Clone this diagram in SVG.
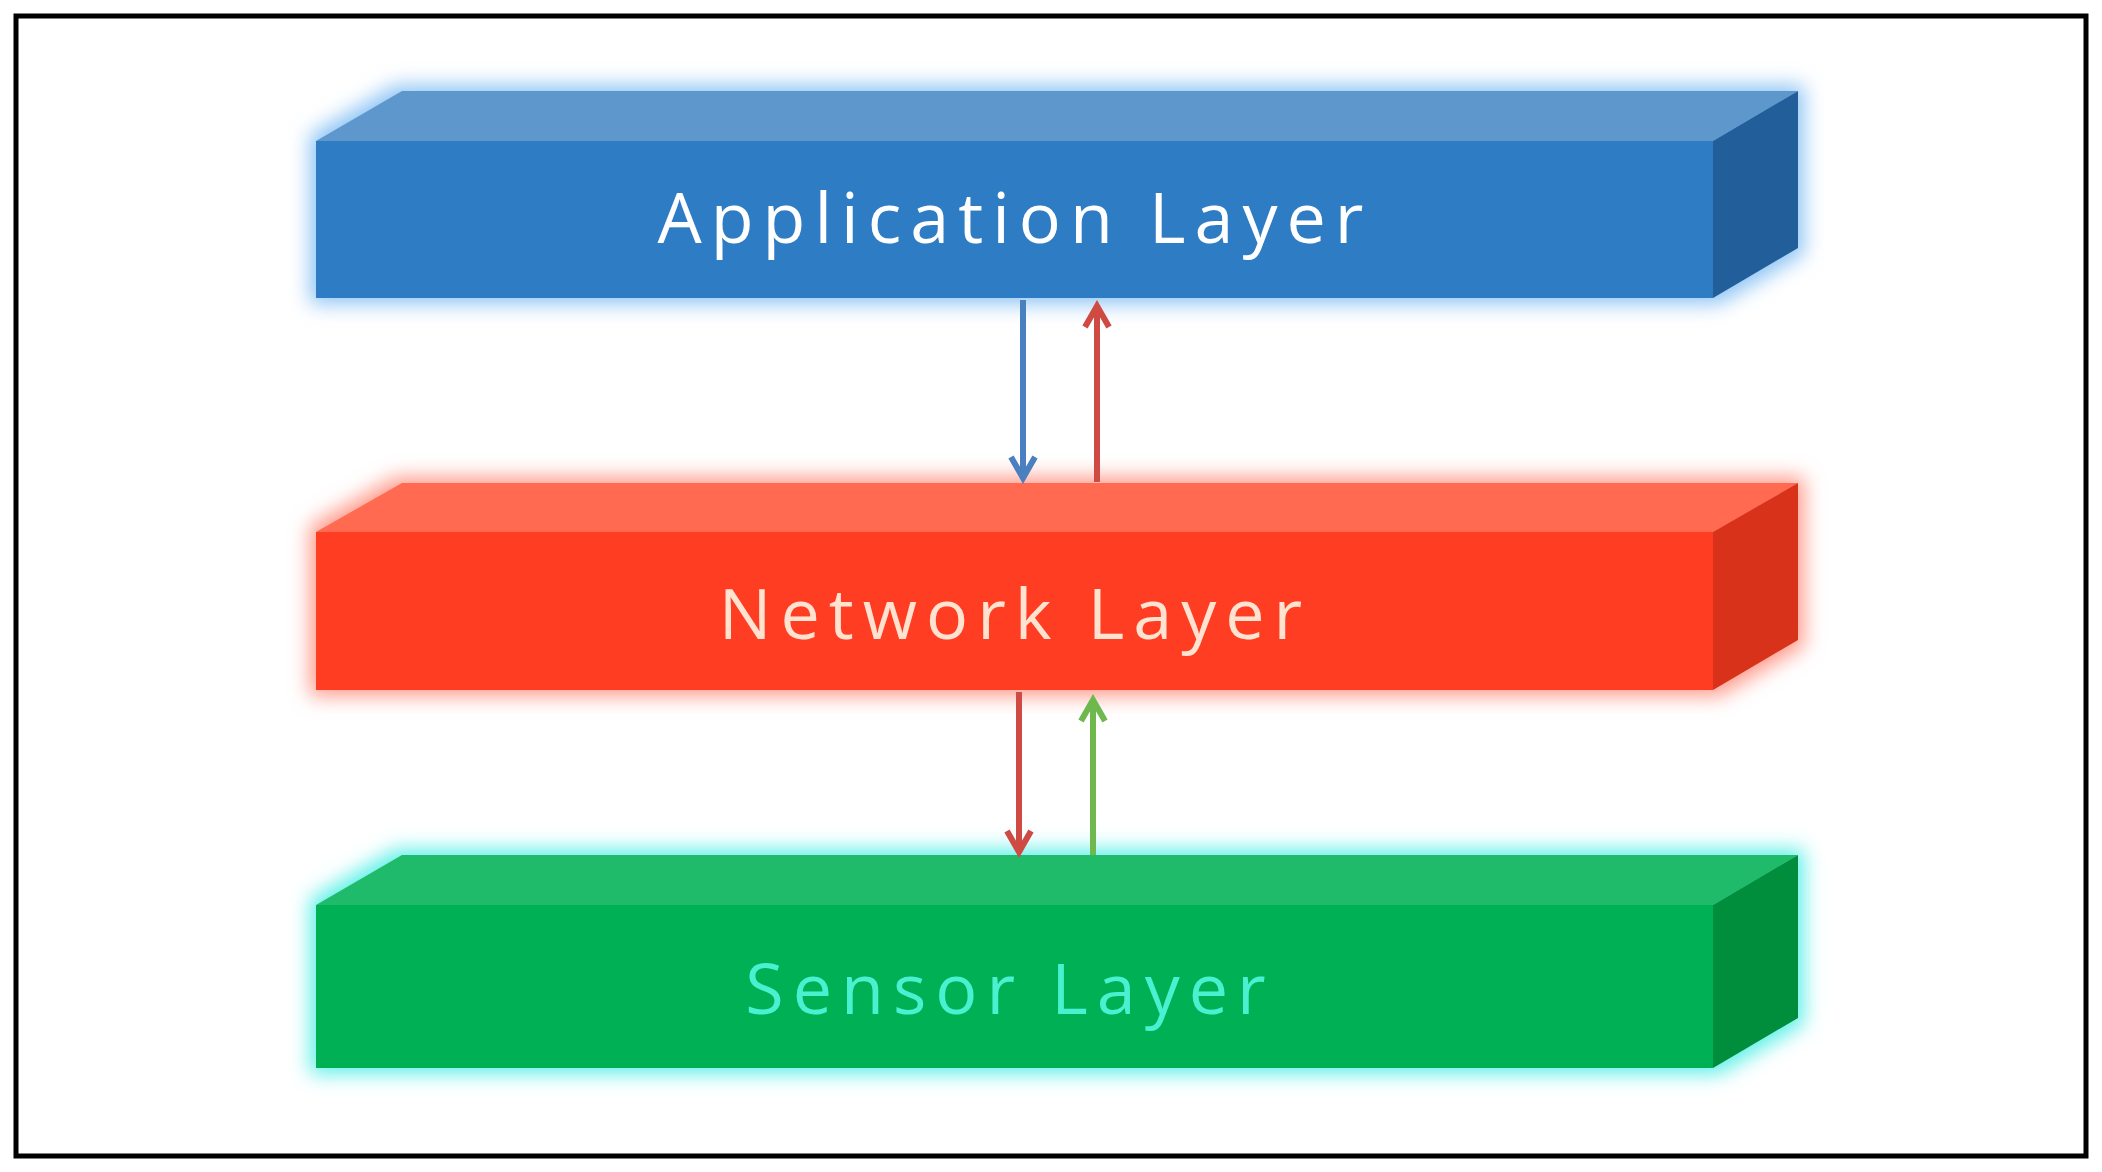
<svg xmlns="http://www.w3.org/2000/svg" width="2102" height="1172" viewBox="0 0 2102 1172">
<defs>
<filter id="glow" x="-10%" y="-40%" width="120%" height="180%"><feMorphology operator="dilate" radius="6"/><feGaussianBlur stdDeviation="10"/></filter>
<marker id="ab" viewBox="0 0 10 10" refX="8" refY="5" markerWidth="5" markerHeight="5" orient="auto"><path d="M1,1 L8,5 L1,9" fill="none" stroke="context-stroke" stroke-width="2"/></marker>
</defs>
<style>
text{font-family:"Segoe UI","Open Sans","Noto Sans",sans-serif;font-size:70px;text-anchor:middle;letter-spacing:9px}
.c{stroke-width:6;fill:none;marker-end:url(#ab)}
</style>
<rect width="2102" height="1172" fill="#fff"/>
<rect x="16" y="16" width="2070" height="1140" fill="none" stroke="#000" stroke-width="5"/>
<g id="app">
<path d="M316,141 L402,91 L1798,91 L1798,248 L1713,298 L316,298 Z" fill="#8ec5f5" filter="url(#glow)"/>
<path d="M316,141 L402,91 L1798,91 L1713,141 Z" fill="#5e97cc"/>
<rect x="316" y="141" width="1397" height="157" fill="#2e7cc4"/>
<path d="M1713,141 L1798,91 L1798,248 L1713,298 Z" fill="#225f9a"/>
<text x="1015" y="243" fill="#fff">Application Layer</text>
</g>
<g id="net">
<path d="M316,532 L402,483 L1798,483 L1798,640 L1713,690 L316,690 Z" fill="#ff9a8a" filter="url(#glow)"/>
<path d="M316,532 L402,483 L1798,483 L1713,532 Z" fill="#ff6a50"/>
<rect x="316" y="532" width="1397" height="158" fill="#ff3d22"/>
<path d="M1713,532 L1798,483 L1798,640 L1713,690 Z" fill="#d8321a"/>
<text x="1015" y="639" fill="#ffe3d0">Network Layer</text>
</g>
<g id="sensor">
<path d="M316,905 L402,855 L1798,855 L1798,1018 L1713,1068 L316,1068 Z" fill="#5ef0e8" filter="url(#glow)"/>
<path d="M316,905 L402,855 L1798,855 L1713,905 Z" fill="#1fba6a"/>
<rect x="316" y="905" width="1397" height="163" fill="#00b055"/>
<path d="M1713,905 L1798,855 L1798,1018 L1713,1068 Z" fill="#008d3c"/>
<text x="1010" y="1014" fill="#4af0d0">Sensor Layer</text>
</g>
<g id="connectors">
<line class="c" x1="1023" y1="300" x2="1023" y2="478" stroke="#4a7fc0"/>
<line class="c" x1="1097" y1="482" x2="1097" y2="306" stroke="#d04a44"/>
<line class="c" x1="1019" y1="692" x2="1019" y2="852" stroke="#d04a44"/>
<line class="c" x1="1093" y1="855" x2="1093" y2="700" stroke="#6fb84e"/>
</g>
</svg>
